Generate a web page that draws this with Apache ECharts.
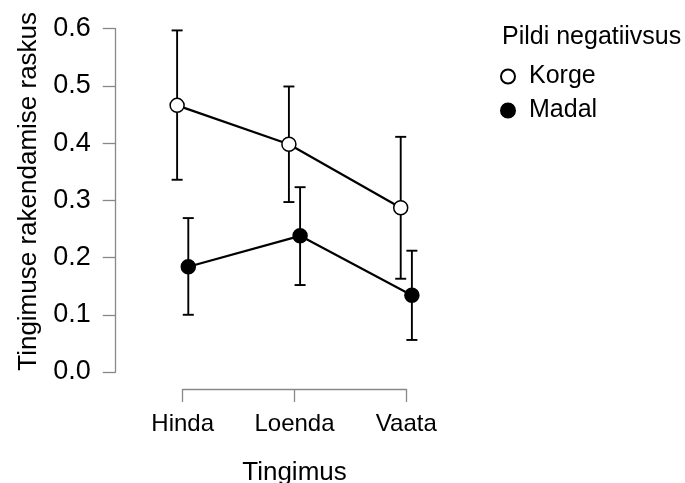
<!DOCTYPE html>
<html>
<head>
<meta charset="utf-8">
<script src="https://cdn.jsdelivr.net/npm/echarts@6/dist/echarts.min.js"></script>
<style>html,body{margin:0;padding:0;background:#fff}#c{width:685px;height:483px}</style>
</head>
<body>
<div id="c"></div>
<script>
var categories = ['Hinda', 'Loenda', 'Vaata'];
var yTicks = [0, 0.1, 0.2, 0.3, 0.4, 0.5, 0.6];
var korgeMean = [0.466, 0.398, 0.287];
var korgeLow  = [0.336, 0.297, 0.163];
var korgeHigh = [0.597, 0.499, 0.411];
var madalMean = [0.184, 0.238, 0.134];
var madalLow  = [0.100, 0.152, 0.056];
var madalHigh = [0.269, 0.323, 0.212];
var dodge = 0.05;

var font = '"Liberation Sans", Arial, sans-serif';
function pts(mean, off) { return mean.map(function (v, i) { return [i + off, v]; }); }
function bars(low, high, off) { return low.map(function (v, i) { return [i + off, v, high[i]]; }); }

function renderErr(params, api) {
  var x = api.value(0);
  var lo = api.coord([x, api.value(1)]);
  var hi = api.coord([x, api.value(2)]);
  var cap = 5.5;
  var st = { stroke: '#000', lineWidth: 1.9 };
  return {
    type: 'group',
    children: [
      { type: 'line', shape: { x1: lo[0], y1: lo[1], x2: hi[0], y2: hi[1] }, style: st },
      { type: 'line', shape: { x1: lo[0] - cap, y1: lo[1], x2: lo[0] + cap, y2: lo[1] }, style: st },
      { type: 'line', shape: { x1: hi[0] - cap, y1: hi[1], x2: hi[0] + cap, y2: hi[1] }, style: st }
    ]
  };
}

var chart = echarts.init(document.getElementById('c'), null, { renderer: 'canvas' });
chart.setOption({
  animation: false,
  backgroundColor: '#fff',
  textStyle: { fontFamily: font, color: '#000' },
  title: {
    text: 'Pildi negatiivsus', left: 497, top: 20,
    textStyle: { fontFamily: font, fontSize: 25, fontWeight: 'normal', color: '#000' }
  },
  legend: {
    orient: 'vertical', left: 495, top: 59, icon: 'circle',
    itemWidth: 14, itemHeight: 14, itemGap: 9,
    data: ['Korge', 'Madal'],
    textStyle: { fontFamily: font, fontSize: 25, color: '#000', padding: [0, 0, 0, 9] }
  },
  grid: { left: 182.7, right: 278.7, top: 28.7, bottom: 111, outerBoundsMode: 'none', containLabel: false },
  xAxis: [
    {
      type: 'category', data: categories, boundaryGap: false, position: 'bottom', offset: 17,
      axisLine: { onZero: false, lineStyle: { color: '#888', width: 1.3 } },
      axisTick: { length: 13, lineStyle: { color: '#888', width: 1.3 } },
      axisLabel: { fontFamily: font, fontSize: 24, color: '#000', margin: 23 },
      splitLine: { show: false },
      name: 'Tingimus', nameLocation: 'middle', nameGap: 71,
      nameTextStyle: { fontFamily: font, fontSize: 26, color: '#000' }
    },
    { type: 'value', min: 0, max: 2, show: false }
  ],
  yAxis: {
    type: 'value', min: 0, max: 0.6, interval: 0.1, offset: 67, position: 'left',
    axisLine: { show: true, onZero: false, lineStyle: { color: '#888', width: 1.3 } },
    axisTick: { show: true, length: 13, lineStyle: { color: '#888', width: 1.3 } },
    axisLabel: {
      fontFamily: font, fontSize: 27, color: '#000', margin: 25,
      formatter: function (v) { return v.toFixed(1); }
    },
    splitLine: { show: false },
    name: 'Tingimuse rakendamise raskus', nameLocation: 'middle', nameGap: 74,
    nameTextStyle: { fontFamily: font, fontSize: 26, color: '#000', padding: [0, 0, 0, 18] }
  },
  series: [
    {
      name: 'KorgeErr', type: 'custom', xAxisIndex: 1, clip: false, z: 1,
      renderItem: renderErr, data: bars(korgeLow, korgeHigh, -dodge), silent: true
    },
    {
      name: 'MadalErr', type: 'custom', xAxisIndex: 1, clip: false, z: 1,
      renderItem: renderErr, data: bars(madalLow, madalHigh, dodge), silent: true
    },
    {
      name: 'Korge', type: 'line', xAxisIndex: 1, clip: false, z: 3,
      data: pts(korgeMean, -dodge), symbol: 'circle', symbolSize: 14,
      lineStyle: { color: '#000', width: 2.2 },
      itemStyle: { color: '#fff', borderColor: '#000', borderWidth: 1.5 }
    },
    {
      name: 'Madal', type: 'line', xAxisIndex: 1, clip: false, z: 3,
      data: pts(madalMean, dodge), symbol: 'circle', symbolSize: 14,
      lineStyle: { color: '#000', width: 2.2 },
      itemStyle: { color: '#000', borderColor: '#000', borderWidth: 1.5 }
    }
  ]
});
</script>
</body>
</html>
